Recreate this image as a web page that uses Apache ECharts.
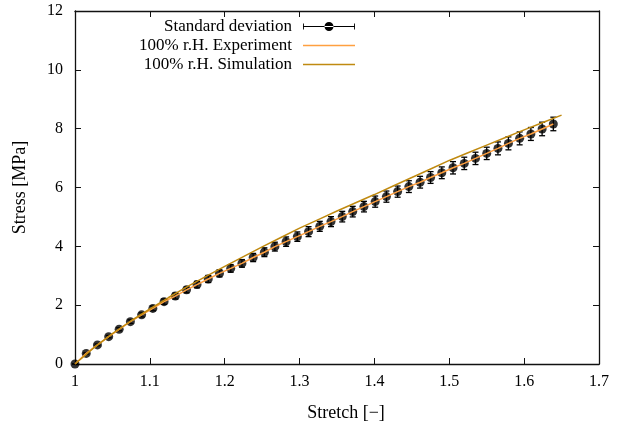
<!DOCTYPE html>
<html><head><meta charset="utf-8">
<script src="https://cdn.jsdelivr.net/npm/echarts@6/dist/echarts.min.js"></script>
<style>html,body{margin:0;padding:0;background:#fff}#c{width:622px;height:427px}</style>
</head><body><div id="c"></div>
<script>
// Experimental data (mean and standard deviation)
var stretchExp = [1.000,1.015,1.030,1.045,1.059,1.074,1.089,1.104,1.119,1.134,1.149,1.163,1.178,1.193,1.208,1.223,1.238,1.253,1.267,1.282,1.297,1.312,1.327,1.342,1.357,1.371,1.386,1.401,1.416,1.431,1.446,1.461,1.475,1.490,1.505,1.520,1.535,1.550,1.565,1.579,1.594,1.609,1.624,1.639];
var stressExp = [0,0.36,0.65,0.93,1.18,1.44,1.67,1.89,2.12,2.31,2.52,2.70,2.89,3.08,3.25,3.42,3.62,3.80,3.99,4.16,4.33,4.50,4.68,4.84,5.01,5.18,5.35,5.52,5.69,5.86,6.03,6.18,6.34,6.50,6.67,6.82,6.99,7.16,7.33,7.50,7.67,7.82,7.99,8.16];
var stdExp = [0,0.02,0.03,0.04,0.05,0.06,0.07,0.08,0.09,0.10,0.10,0.11,0.12,0.12,0.13,0.13,0.14,0.15,0.15,0.16,0.16,0.17,0.17,0.17,0.18,0.18,0.18,0.19,0.19,0.19,0.20,0.20,0.20,0.20,0.21,0.21,0.21,0.21,0.22,0.22,0.22,0.22,0.23,0.23];
// Simulation
var stretchSim = [1.000,1.025,1.050,1.075,1.100,1.125,1.150,1.175,1.200,1.225,1.250,1.275,1.300,1.325,1.350,1.375,1.400,1.425,1.450,1.475,1.500,1.525,1.550,1.575,1.600,1.625,1.650];
var stressSim = [0,0.55,1.03,1.47,1.87,2.26,2.63,2.98,3.32,3.65,3.98,4.30,4.62,4.91,5.20,5.48,5.76,6.05,6.34,6.63,6.92,7.18,7.44,7.70,7.96,8.21,8.46];
// Axis ticks
var xTicks = {min:1, max:1.7, interval:0.1};
var yTicks = {min:0, max:12, interval:2};
var seriesNames = ['Standard deviation','100% r.H. Experiment','100% r.H. Simulation'];

var FONT = 'Liberation Serif';
var expColor = '#ffa040', simColor = '#c08a10';

var meanData = stretchExp.map(function(s,i){return [s, stressExp[i]];});
var errData = stretchExp.map(function(s,i){return [s, stressExp[i]-stdExp[i], stressExp[i]+stdExp[i]];});
var simData = stretchSim.map(function(s,i){return [s, stressSim[i]];});

var chart = echarts.init(document.getElementById('c'), null, {renderer:'canvas'});
var axisCommon = {
  axisLine:{show:true, onZero:false, lineStyle:{color:'#111', width:1.3}},
  axisTick:{show:true, inside:true, length:6, lineStyle:{color:'#111', width:1}},
  splitLine:{show:false}
};
var errIcon = 'path://M0,4.6H52V5.4H0Z M0,2H0.9V8H0Z M51.1,2H52V8H51.1Z M21.5,5A4.5,4.5 0 1,0 30.5,5A4.5,4.5 0 1,0 21.5,5Z';
var barIcon = 'path://M0,4.25H52V5.75H0Z';
chart.setOption({
  animation:false,
  grid:{left:75, right:23, top:11, bottom:63},
  legend:{
    orient:'vertical', align:'right', right:262, top:13, itemGap:2,
    itemWidth:52, itemHeight:10,
    textStyle:{fontFamily:FONT, fontSize:17, color:'#000', padding:[0,6,0,0]},
    data:[
      {name:seriesNames[0], icon:errIcon, itemStyle:{color:'#000', borderWidth:0}},
      {name:seriesNames[1], icon:barIcon, itemStyle:{color:expColor, borderWidth:0}, lineStyle:{color:expColor, width:0}},
      {name:seriesNames[2], icon:barIcon, itemStyle:{color:simColor, borderWidth:0}, lineStyle:{color:simColor, width:0}}
    ]
  },
  xAxis:[
    Object.assign({type:'value', min:xTicks.min, max:xTicks.max, interval:xTicks.interval,
      name:'Stretch [\u2212]', nameLocation:'middle', nameGap:40,
      nameTextStyle:{fontFamily:FONT, fontSize:18, color:'#000', padding:[0,0,0,18]},
      axisLabel:{fontFamily:FONT, fontSize:16, color:'#000', margin:10,
        formatter:function(v){return Math.abs(v-1)<1e-9?'1':v.toFixed(1);}}}, axisCommon),
    Object.assign({type:'value', position:'top', min:xTicks.min, max:xTicks.max, interval:xTicks.interval,
      axisLabel:{show:false}}, axisCommon)
  ],
  yAxis:[
    Object.assign({type:'value', min:yTicks.min, max:yTicks.max, interval:yTicks.interval,
      name:'Stress [MPa]', nameLocation:'middle', nameGap:46,
      nameTextStyle:{fontFamily:FONT, fontSize:18, color:'#000'},
      axisLabel:{fontFamily:FONT, fontSize:16, color:'#000', margin:12}}, axisCommon),
    Object.assign({type:'value', position:'right', min:yTicks.min, max:yTicks.max, interval:yTicks.interval,
      axisLabel:{show:false}}, axisCommon)
  ],
  series:[
    {
      name:seriesNames[0], type:'custom', xAxisIndex:0, yAxisIndex:0, z:2,
      itemStyle:{color:'#000'},
      data:errData,
      encode:{x:0, y:[1,2]},
      renderItem:function(params, api){
        var x = api.value(0);
        var lo = api.coord([x, api.value(1)]);
        var hi = api.coord([x, api.value(2)]);
        var cap = 3;
        var st = {stroke:'#000', lineWidth:1.3};
        return {type:'group', children:[
          {type:'line', shape:{x1:lo[0], y1:lo[1], x2:hi[0], y2:hi[1]}, style:st},
          {type:'line', shape:{x1:lo[0]-cap, y1:lo[1], x2:lo[0]+cap, y2:lo[1]}, style:st},
          {type:'line', shape:{x1:hi[0]-cap, y1:hi[1], x2:hi[0]+cap, y2:hi[1]}, style:st}
        ]};
      }
    },
    {
      name:seriesNames[0], type:'scatter', xAxisIndex:0, yAxisIndex:0, z:3,
      symbol:'circle', symbolSize:9, itemStyle:{color:'#000'},
      data:meanData
    },
    {
      name:seriesNames[1], type:'line', xAxisIndex:0, yAxisIndex:0, z:4,
      showSymbol:false, smooth:false,
      lineStyle:{color:expColor, width:1.5}, itemStyle:{color:expColor},
      data:meanData
    },
    {
      name:seriesNames[2], type:'line', xAxisIndex:0, yAxisIndex:0, z:5,
      showSymbol:false, smooth:false,
      lineStyle:{color:simColor, width:1.5}, itemStyle:{color:simColor},
      data:simData
    }
  ]
});
</script></body></html>
